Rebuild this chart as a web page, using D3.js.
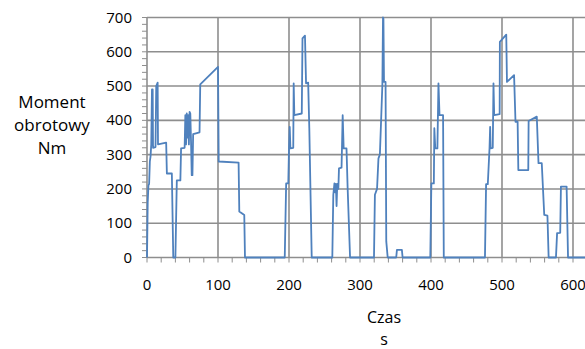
<!DOCTYPE html>
<html>
<head>
<meta charset="utf-8">
<script src="https://cdn.jsdelivr.net/npm/d3@7"></script>
<style>
  body { margin: 0; background: #fff; }
  text { font-family: "Open Sans", "Liberation Sans", sans-serif; fill: #000; }
</style>
</head>
<body>
<svg id="chart" width="585" height="349"></svg>
<script>
// czas [s] / moment obrotowy [Nm]
var czas = [0, 1, 2, 3, 4, 5, 6, 7, 8, 8.5, 12, 13, 14, 15, 15.5, 27, 28, 35, 37, 40,
  42, 47, 48, 53, 54, 55, 56, 57, 58, 59, 60, 61, 62, 63, 64, 65, 74, 75, 100, 101,
  129, 130, 137, 138, 194,
  196, 199, 200, 201, 202, 206, 206.6, 207.5, 218, 219, 222.5, 224, 227, 228.6, 232,
  261, 262.4, 264, 265, 266, 267, 268, 269.5, 270.4, 274, 275.6, 277, 281, 282.6, 286,
  319.7, 321, 324, 326, 328, 330.5, 331.5, 332.4, 333, 333.8, 336, 337, 339,
  351, 352, 359, 360, 399, 400.5, 404, 404.7, 406, 409, 410.5, 412, 417, 418,
  476, 477.6, 480, 482.4, 483.3, 484, 487, 488, 489, 496.7, 497, 506, 507, 517, 519,
  522, 523, 537, 537.5, 549, 551.4, 556, 559.5, 564, 565.7, 576, 577.6, 582, 583,
  591, 593, 700];
var moment = [0, 160, 210, 215, 280, 295, 330, 490, 490, 320, 322, 500, 505, 510, 330, 335, 245, 245, 0, 0,
  225, 225, 318, 320, 415, 330, 420, 350, 415, 330, 425, 420, 340, 240, 240, 360, 365, 505, 556, 280,
  277, 134, 124, 0, 0,
  216, 216, 318, 381, 318, 320, 508, 415, 420, 639, 647, 508, 510, 377, 0,
  0, 183, 216, 190, 215, 150, 215, 200, 260, 262, 415, 318, 318, 202, 0,
  0, 183, 200, 289, 300, 445, 503, 700, 697, 512, 512, 47, 0,
  0, 22, 22, 0, 0, 216, 216, 377, 318, 318, 508, 415, 415, 0,
  0, 214, 214, 318, 381, 318, 320, 508, 415, 418, 629, 650, 512, 532, 396,
  396, 255, 255, 398, 411, 275, 275, 124, 122, 0, 0, 71, 72, 207,
  207, 0, 0];

var xTicks = [0, 100, 200, 300, 400, 500, 600, 700];
var yTicks = [0, 100, 200, 300, 400, 500, 600, 700];

var svg = d3.select("#chart");
var plotLeft = 147, plotTop = 17.5, plotBottom = 257.5;

var x = d3.scaleLinear().domain([0, 700]).range([plotLeft, plotLeft + 497]);
var y = d3.scaleLinear().domain([0, 700]).range([plotBottom, plotTop]);

var gridColor = "#8e8e8e";

// grid
svg.append("g").selectAll("line")
  .data(yTicks)
  .enter().append("line")
  .attr("x1", plotLeft).attr("x2", 585)
  .attr("y1", function(d) { return y(d); })
  .attr("y2", function(d) { return y(d); })
  .attr("stroke", gridColor).attr("stroke-width", 1.6);

svg.append("g").selectAll("line")
  .data(xTicks)
  .enter().append("line")
  .attr("x1", function(d) { return x(d); })
  .attr("x2", function(d) { return x(d); })
  .attr("y1", plotTop).attr("y2", plotBottom)
  .attr("stroke", gridColor).attr("stroke-width", 1.6);

// minor tick marks every 20
var minor = d3.range(0, 701, 20);
svg.append("g").selectAll("line")
  .data(minor)
  .enter().append("line")
  .attr("x1", plotLeft - 5).attr("x2", plotLeft)
  .attr("y1", function(d) { return y(d); })
  .attr("y2", function(d) { return y(d); })
  .attr("stroke", gridColor).attr("stroke-width", 1);
svg.append("g").selectAll("line")
  .data(minor)
  .enter().append("line")
  .attr("x1", function(d) { return x(d); })
  .attr("x2", function(d) { return x(d); })
  .attr("y1", plotBottom).attr("y2", plotBottom + 5)
  .attr("stroke", gridColor).attr("stroke-width", 1);

// tick labels
svg.append("g").selectAll("text")
  .data(yTicks)
  .enter().append("text")
  .attr("x", 132)
  .attr("y", function(d) { return y(d) + 5; })
  .attr("text-anchor", "end")
  .attr("font-size", 15)
  .text(function(d) { return d; });

svg.append("g").selectAll("text")
  .data(xTicks)
  .enter().append("text")
  .attr("x", function(d) { return x(d); })
  .attr("y", 290)
  .attr("text-anchor", "middle")
  .attr("font-size", 15)
  .text(function(d) { return d; });

// axis titles
var yTitle = ["Moment", "obrotowy", "Nm"];
svg.append("g").selectAll("text")
  .data(yTitle)
  .enter().append("text")
  .attr("x", 52)
  .attr("y", function(d, i) { return 108 + i * 23; })
  .attr("text-anchor", "middle")
  .attr("font-size", 17)
  .text(function(d) { return d; });

svg.append("text").attr("x", 384).attr("y", 323)
  .attr("text-anchor", "middle").attr("font-size", 16).text("Czas");
svg.append("text").attr("x", 384).attr("y", 345)
  .attr("text-anchor", "middle").attr("font-size", 16).text("s");

// the series
var pts = czas.map(function(c, i) { return [c, moment[i]]; });
var line = d3.line()
  .x(function(d) { return x(d[0]); })
  .y(function(d) { return y(d[1]); });

svg.append("path")
  .datum(pts)
  .attr("d", line)
  .attr("fill", "none")
  .attr("stroke", "#4f81bd")
  .attr("stroke-width", 1.8)
  .attr("stroke-linejoin", "round");
</script>
</body>
</html>
